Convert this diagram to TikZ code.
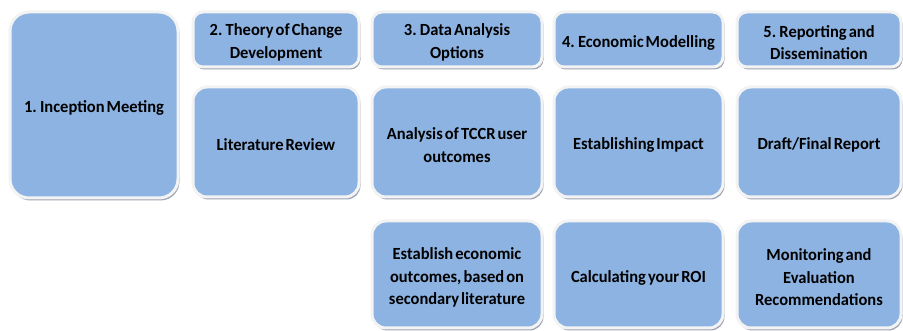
\documentclass[tikz,border=0pt]{standalone}
\usepackage{fontspec}
\setmainfont{Carlito}[WordSpace=0.55, FakeStretch=0.97]
\usetikzlibrary{shadows}
\definecolor{boxblue}{HTML}{8DB3E2}
\definecolor{boxrim}{HTML}{F3F3F3}
\definecolor{shadowgray}{HTML}{9CA4B4}
\tikzset{
  caption/.style={align=center, inner sep=0pt, text=black, yshift=-3pt,
    font=\fontsize{17}{22.5}\selectfont\bfseries},
  stage/.style={rectangle, fill=boxblue, draw=boxrim, line width=3pt,
    label={[caption]center:{#1}},
    drop shadow={shadow xshift=1.5pt, shadow yshift=-2.5pt, fill=shadowgray, opacity=1}},
  headbox/.style={stage={#1}, rounded corners=10pt, minimum height=55pt},
  taskbox/.style={stage={#1}, rounded corners=14pt},
}
\begin{document}
\begin{tikzpicture}[x=1pt, y=-1pt]
\useasboundingbox[fill=white] (0,0) rectangle (903,331);
% inception
\node[stage={1. Inception Meeting}, rounded corners=19pt, minimum width=168pt, minimum height=186pt] (s1) at (94,105) {};
% stage headers
\node[headbox={2. Theory of Change\\Development}, minimum width=166pt] (h2) at (276,39.5) {};
\node[headbox={3. Data Analysis\\Options}, minimum width=170pt] (h3) at (457,39.5) {};
\node[headbox={4. Economic Modelling}, minimum width=169pt] (h4) at (638.5,39.5) {};
\node[headbox={5. Reporting and\\Dissemination}, minimum width=164pt] (h5) at (819,39.5) {};
% first row of tasks
\node[taskbox={Literature Review}, minimum width=166pt, minimum height=110pt] (t2a) at (276,142) {};
\node[taskbox={Analysis of TCCR user\\outcomes}, minimum width=170pt, minimum height=110pt] (t3a) at (457,142) {};
\node[taskbox={Establishing Impact}, minimum width=169pt, minimum height=110pt] (t4a) at (638.5,142) {};
\node[taskbox={Draft/Final Report}, minimum width=164pt, minimum height=110pt] (t5a) at (819,142) {};
% second row of tasks
\node[taskbox={Establish economic\\outcomes, based on\\secondary literature}, minimum width=170pt, minimum height=107pt] (t3b) at (457,274.5) {};
\node[taskbox={Calculating your ROI}, minimum width=169pt, minimum height=107pt] (t4b) at (638.5,274.5) {};
\node[taskbox={Monitoring and\\Evaluation\\Recommendations}, minimum width=164pt, minimum height=107pt] (t5b) at (819,274.5) {};
\end{tikzpicture}
\end{document}
